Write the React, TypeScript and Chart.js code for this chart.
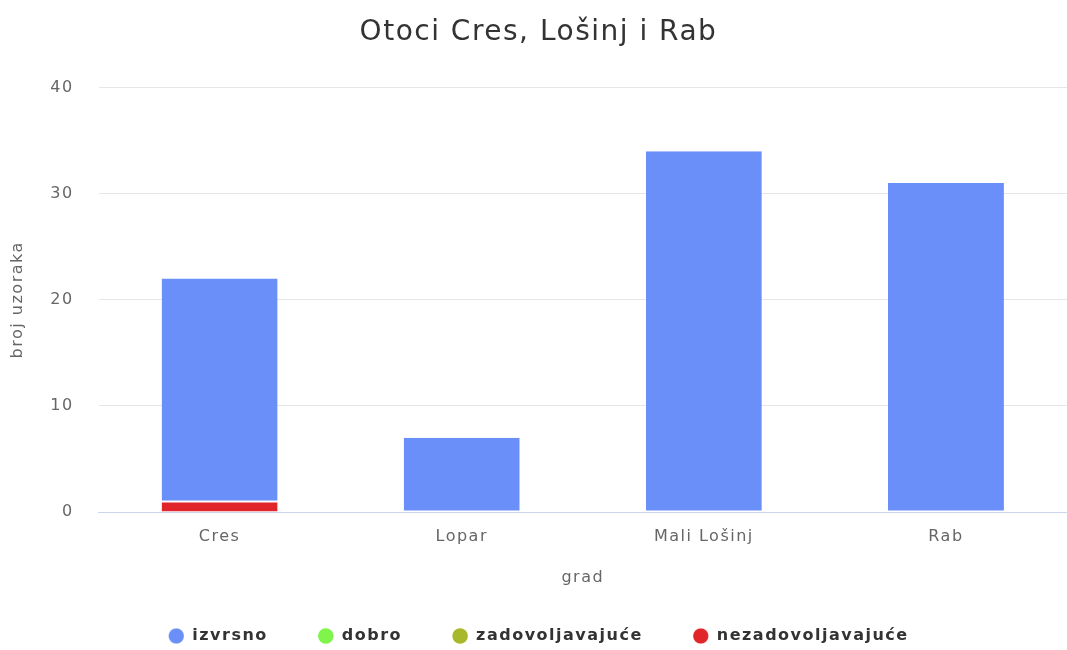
import React, { useEffect, useRef } from "react";
import { Chart, registerables } from "chart.js";

Chart.register(...registerables);

const categories = ["Cres", "Lopar", "Mali Lošinj", "Rab"];
const izvrsno = [21, 7, 34, 31];
const dobro = [0, 0, 0, 0];
const zadovoljavajuce = [0, 0, 0, 0];
const nezadovoljavajuce = [1, 0, 0, 0];
const yTicks = [0, 10, 20, 30, 40];

const FONT = "'DejaVu Sans', Verdana, sans-serif";

const spacingPlugin = {
  id: "letterSpacing",
  beforeUpdate(chart: any) {
    chart.ctx.letterSpacing = "1.5px";
  },
  beforeLayout(chart: any) {
    chart.ctx.letterSpacing = "1.5px";
  },
  beforeDraw(chart: any) {
    chart.ctx.letterSpacing = "1.5px";
  },
};

export default function App() {
  const ref = useRef<HTMLCanvasElement | null>(null);
  useEffect(() => {
    if (!ref.current) return;
    const chart = new Chart(ref.current, {
      type: "bar",
      data: {
        labels: categories,
        datasets: [
          { label: "nezadovoljavajuće", data: nezadovoljavajuce, backgroundColor: "#e0262b", borderColor: "#ffffff", borderWidth: { top: 1 } as any, borderSkipped: false },
          { label: "zadovoljavajuće", data: zadovoljavajuce, backgroundColor: "#a8b82c", borderColor: "#ffffff", borderWidth: 0 },
          { label: "dobro", data: dobro, backgroundColor: "#7ff44a", borderColor: "#ffffff", borderWidth: 0 },
          { label: "izvrsno", data: izvrsno, backgroundColor: "#6b8ff8", borderColor: "#ffffff", borderWidth: { bottom: 1 } as any, borderSkipped: false },
        ],
      },
      plugins: [spacingPlugin],
      options: {
        animation: false,
        responsive: true,
        maintainAspectRatio: false,
        datasets: { bar: { barPercentage: 1, categoryPercentage: 0.479 } },
        layout: { padding: { left: 10, right: 0, top: 0, bottom: -4 } },
        plugins: {
          title: {
            display: true,
            text: "Otoci Cres, Lošinj i Rab",
            color: "#333333",
            font: { family: FONT, size: 28, weight: "normal" },
            padding: { top: 16, bottom: 38 },
          },
          legend: {
            position: "bottom",
            reverse: true,
            labels: {
              usePointStyle: true,
              pointStyle: "circle",
              boxHeight: 11,
              boxWidth: 16,
              padding: 50,
              color: "#333333",
              font: { family: FONT, size: 16, weight: "bold" },
            },
          },
          tooltip: { enabled: false },
        },
        scales: {
          x: {
            stacked: true,
            grid: { display: false, drawTicks: false },
            border: { display: true, color: "#ccd6eb" },
            ticks: { color: "#666666", font: { family: FONT, size: 16 }, padding: 15 },
            title: { display: true, text: "grad", color: "#666666", font: { family: FONT, size: 16 }, padding: { top: 7, bottom: -9.4 } },
          },
          y: {
            stacked: true,
            min: 0,
            max: 40,
            afterBuildTicks: (axis: any) => {
              axis.ticks = yTicks.map((v) => ({ value: v }));
            },
            grid: { color: "#e6e6e6", drawTicks: false },
            border: { display: false },
            ticks: { color: "#666666", font: { family: FONT, size: 16 }, padding: 25 },
            title: { display: true, text: "broj uzoraka", color: "#666666", font: { family: FONT, size: 16 }, padding: { top: -2, bottom: -2 } },
          },
        },
      },
    });
    return () => chart.destroy();
  }, []);
  return (
    <div style={{ position: "fixed", left: 0, top: 0, width: 1067, height: 650, background: "#ffffff" }}>
      <canvas ref={ref} />
    </div>
  );
}
